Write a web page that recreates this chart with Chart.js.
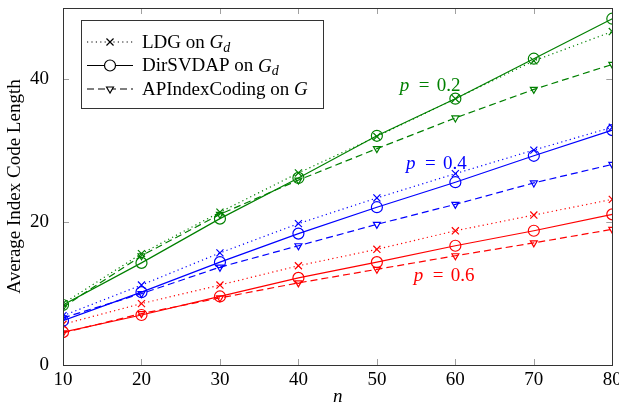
<!DOCTYPE html>
<html>
<head>
<meta charset="utf-8">
<script src="https://cdn.jsdelivr.net/npm/chart.js@4.4.1/dist/chart.umd.min.js"></script>
<style>
  html, body { margin: 0; padding: 0; background: #fff; }
  #wrap { width: 619px; height: 408px; }
</style>
</head>
<body>
<div id="wrap"><canvas id="c" width="619" height="408"></canvas></div>
<script>
// 数据
const nValues = [10, 20, 30, 40, 50, 60, 70, 80];

const ldgP02 = [8.6, 15.6, 21.4, 26.9, 32.0, 37.3, 42.6, 46.7];
const dirP02 = [8.4, 14.3, 20.5, 26.2, 32.1, 37.3, 42.9, 48.5];
const apiP02 = [8.1, 15.3, 21.1, 25.9, 30.3, 34.6, 38.6, 42.1];

const ldgP04 = [6.9, 11.2, 15.7, 19.8, 23.4, 26.8, 30.1, 33.3];
const dirP04 = [6.2, 10.2, 14.4, 18.4, 22.1, 25.6, 29.3, 32.9];
const apiP04 = [6.6, 10.0, 13.7, 16.7, 19.7, 22.5, 25.5, 28.1];

const ldgP06 = [5.7, 8.6, 11.2, 13.9, 16.2, 18.8, 21.0, 23.2];
const dirP06 = [4.6, 7.0, 9.6, 12.2, 14.4, 16.7, 18.8, 21.1];
const apiP06 = [4.5, 7.2, 9.4, 11.5, 13.4, 15.3, 17.1, 19.0];

const yTicks = [0, 20, 40];

const GREEN = '#008000';
const BLUE = '#0000ff';
const RED = '#ff0000';
const SERIF = "'Liberation Serif', 'DejaVu Serif', serif";

// 三种方法的线型
const styles = {
  ldg: { borderDash: [1.2, 3.2], pointStyle: 'crossRot', pointRadius: 5, rotation: 0 },
  dir: { borderDash: [], pointStyle: 'circle', pointRadius: 5.5, rotation: 0 },
  api: { borderDash: [7, 4], pointStyle: 'triangle', pointRadius: 4, rotation: 180 }
};

function makeSet(values, color, kind) {
  const s = styles[kind];
  return {
    data: values.map((v, i) => ({ x: nValues[i], y: v })),
    borderColor: color,
    backgroundColor: 'rgba(0,0,0,0)',
    pointBackgroundColor: 'rgba(0,0,0,0)',
    pointBorderColor: color,
    borderWidth: 1.2,
    pointBorderWidth: 1.2,
    borderDash: s.borderDash,
    pointStyle: s.pointStyle,
    pointRadius: s.pointRadius,
    pointRotation: s.rotation,
    tension: 0,
    fill: false
  };
}

// p 标签
const pLabels = [
  { text: '0.2', color: GREEN, x: 52.9, y: 38.4 },
  { text: '0.4', color: BLUE, x: 53.7, y: 27.4 },
  { text: '0.6', color: RED, x: 54.7, y: 11.7 }
];

// 图例条目
const legendItems = [
  { label: 'LDG on ', math: 'G', sub: 'd', kind: 'ldg' },
  { label: 'DirSVDAP on ', math: 'G', sub: 'd', kind: 'dir' },
  { label: 'APIndexCoding on ', math: 'G', sub: '', kind: 'api' }
];

const framePlugin = {
  id: 'frame',
  afterDatasetsDraw(chart) {
    const { ctx, chartArea: a, scales } = chart;
    ctx.save();
    // 内向刻度
    ctx.strokeStyle = '#a0a0a0';
    ctx.lineWidth = 1;
    ctx.beginPath();
    for (let n = 20; n <= 70; n += 10) {
      const px = Math.round(scales.x.getPixelForValue(n)) + 0.5;
      ctx.moveTo(px, a.bottom); ctx.lineTo(px, a.bottom - 6);
      ctx.moveTo(px, a.top); ctx.lineTo(px, a.top + 6);
    }
    yTicks.slice(1).forEach(v => {
      const py = Math.round(scales.y.getPixelForValue(v)) + 0.5;
      ctx.moveTo(a.left, py); ctx.lineTo(a.left + 6, py);
      ctx.moveTo(a.right, py); ctx.lineTo(a.right - 6, py);
    });
    ctx.stroke();
    // 外框
    ctx.strokeStyle = '#333';
    ctx.strokeRect(Math.round(a.left) + 0.5, Math.round(a.top) + 0.5,
      Math.round(a.right - a.left), Math.round(a.bottom - a.top));

    // p 标签
    pLabels.forEach(l => {
      const px = scales.x.getPixelForValue(l.x);
      const py = scales.y.getPixelForValue(l.y);
      ctx.fillStyle = l.color;
      ctx.textBaseline = 'alphabetic';
      ctx.textAlign = 'left';
      ctx.font = 'italic 19px ' + SERIF;
      ctx.fillText('p', px, py);
      ctx.font = '19px ' + SERIF;
      ctx.fillText('=', px + 19, py);
      ctx.fillText(l.text, px + 37, py);
    });

    // 图例
    const bx = 81, by = 20, bw = 242, bh = 88;
    ctx.fillStyle = '#fff';
    ctx.fillRect(bx, by, bw, bh);
    ctx.strokeStyle = '#333';
    ctx.strokeRect(bx + 0.5, by + 0.5, bw, bh);
    const rows = [42, 65.5, 89];
    legendItems.forEach((it, i) => {
      const y = rows[i];
      const s = styles[it.kind];
      ctx.strokeStyle = '#000';
      ctx.lineWidth = 1.2;
      ctx.setLineDash(s.borderDash);
      ctx.beginPath();
      ctx.moveTo(87, y); ctx.lineTo(133, y);
      ctx.stroke();
      ctx.setLineDash([]);
      ctx.fillStyle = '#fff';
      Chart.helpers.drawPoint(ctx, {
        pointStyle: s.pointStyle, radius: s.pointRadius, rotation: s.rotation, borderWidth: 1.2
      }, 110, y);
      ctx.fillStyle = '#000';
      ctx.textBaseline = 'middle';
      ctx.font = '19px ' + SERIF;
      ctx.fillText(it.label, 142, y + 1);
      let x = 142 + ctx.measureText(it.label).width;
      ctx.font = 'italic 19px ' + SERIF;
      ctx.fillText(it.math, x, y + 1);
      x += ctx.measureText(it.math).width;
      if (it.sub) {
        ctx.font = 'italic 14px ' + SERIF;
        ctx.fillText(it.sub, x, y + 6);
      }
    });
    ctx.restore();
  }
};

new Chart(document.getElementById('c'), {
  type: 'line',
  data: {
    datasets: [
      makeSet(ldgP02, GREEN, 'ldg'), makeSet(dirP02, GREEN, 'dir'), makeSet(apiP02, GREEN, 'api'),
      makeSet(ldgP04, BLUE, 'ldg'), makeSet(dirP04, BLUE, 'dir'), makeSet(apiP04, BLUE, 'api'),
      makeSet(ldgP06, RED, 'ldg'), makeSet(dirP06, RED, 'dir'), makeSet(apiP06, RED, 'api')
    ]
  },
  options: {
    responsive: false,
    animation: false,
    devicePixelRatio: 1,
    layout: { padding: { top: 8, right: 5, left: 0, bottom: 0 } },
    plugins: { legend: { display: false }, tooltip: { enabled: false } },
    scales: {
      x: {
        type: 'linear',
        min: 10, max: 80,
        grid: { display: false },
        border: { display: false },
        ticks: { stepSize: 10, color: '#000', font: { family: SERIF, size: 19 }, padding: -4, maxRotation: 0 },
        title: { display: true, text: 'n', color: '#000', font: { family: SERIF, size: 19, style: 'italic' }, padding: { top: 0, bottom: 0 } },
        afterFit(scale) { scale.height = 43; scale.paddingLeft = 0; scale.paddingRight = 0; }
      },
      y: {
        min: 0, max: 50,
        grid: { display: false },
        border: { display: false },
        afterBuildTicks(scale) { scale.ticks = yTicks.map(v => ({ value: v })); },
        ticks: { color: '#000', font: { family: SERIF, size: 19 }, padding: 6 },
        title: { display: true, text: 'Average Index Code Length', color: '#000', font: { family: SERIF, size: 19 }, padding: { top: 4, bottom: 0 } },
        afterFit(scale) { scale.width = 63; scale.paddingTop = 0; scale.paddingBottom = 0; }
      }
    }
  },
  plugins: [framePlugin]
});
</script>
</body>
</html>
